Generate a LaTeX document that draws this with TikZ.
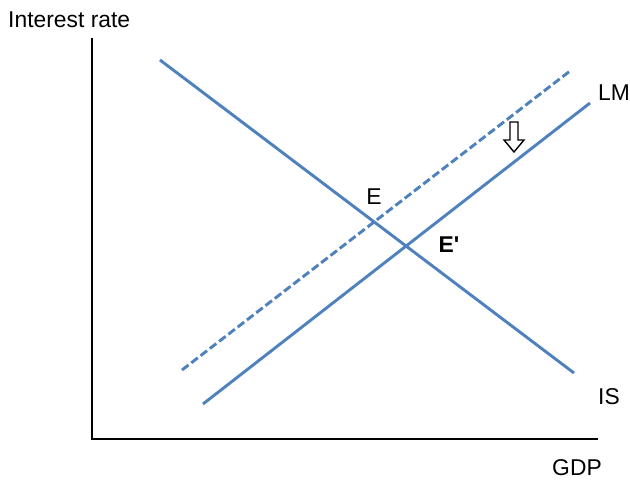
\documentclass[tikz,border=0pt]{standalone}
\usepackage{fontspec}
\setmainfont{Liberation Sans}
\definecolor{curveblue}{RGB}{79,129,189}
\tikzset{
  curve/.style={draw=curveblue, line width=2.5pt},
  axis/.style={draw=black, line width=1.7pt},
  lbl/.style={font=\fontsize{19.5}{23}\selectfont, inner sep=0pt}
}
\begin{document}
\begin{tikzpicture}[x=0.03cm, y=-0.03cm]
\useasboundingbox (0,0) rectangle (630,481);
% axes
\coordinate (top) at (92,38);
\coordinate (origin) at (92,439);
\coordinate (right) at (598,439);
\draw[axis] (top) -- (origin) -- (right);
\node[lbl, anchor=west] (ylabel) at (8,20) {Interest rate};
\node[lbl] (xlabel) at (577,468) {GDP};
% curves
\coordinate (is1) at (160,60);
\coordinate (is2) at (574,373);
\coordinate (lm1) at (203,404);
\coordinate (lm2) at (590,103);
\coordinate (lmd1) at (182,370);
\coordinate (lmd2) at (570,71);
\draw[curve] (is1) -- (is2);
\draw[curve] (lm1) -- (lm2);
\draw[curve, dash pattern=on 7pt off 3pt] (lmd1) -- (lmd2);
\node[lbl] (lm) at (614,93) {LM};
\node[lbl] (is) at (609,397) {IS};
\node[lbl] (e) at (374,197) {E};
\node[lbl, font=\fontsize{19.5}{23}\selectfont\bfseries] (e2) at (449,245) {E\textquotesingle};
% shift arrow
\draw[line width=1.2pt, fill=white] (510,122) -- (518,122) -- (518,140) -- (524,140)
  -- (514,152) -- (504,140) -- (510,140) -- cycle;
\end{tikzpicture}
\end{document}
